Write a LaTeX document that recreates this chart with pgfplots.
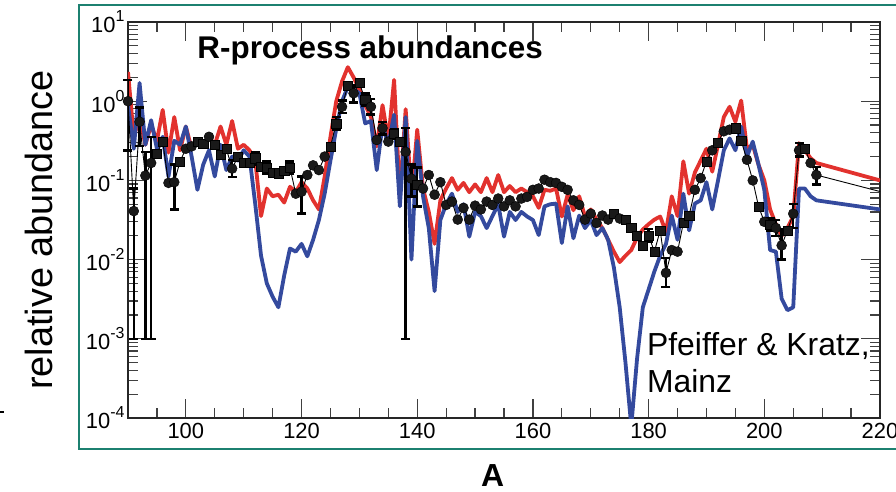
\documentclass[border=0pt]{standalone}
\usepackage{fontspec}
\setmainfont{Liberation Sans}
\usepackage{pgfplots}
\pgfplotsset{compat=1.18}
\usepackage{pgfplotstable}

\definecolor{rcurve}{RGB}{226,50,46}
\definecolor{bcurve}{RGB}{52,74,158}
\definecolor{tealframe}{RGB}{28,128,112}

\newcommand{\decade}[1]{10\raisebox{11bp}{\fontsize{16}{16}\selectfont #1}}

% calculated abundances, model 1 (red)
\pgfplotstableread{
A v
90 2.34
91 0.355
92 0.631
93 0.282
94 0.501
95 0.316
96 0.776
97 0.224
98 0.631
99 0.240
100 0.479
101 0.251
102 0.331
103 0.282
104 0.355
105 0.282
106 0.479
107 0.282
108 0.562
109 0.251
110 0.282
111 0.240
112 0.178
113 0.0355
114 0.079
115 0.063
116 0.066
117 0.0525
118 0.083
119 0.071
120 0.095
121 0.079
122 0.056
123 0.043
124 0.112
125 0.355
126 1.00
127 1.78
128 2.69
129 2.00
130 1.41
131 0.891
132 0.631
133 0.269
134 0.891
135 0.324
136 1.86
137 0.063
138 0.794
139 0.063
140 0.437
141 0.079
142 0.040
143 0.0158
144 0.056
145 0.079
146 0.107
147 0.076
148 0.093
149 0.071
150 0.089
151 0.071
152 0.107
153 0.071
154 0.117
155 0.071
156 0.085
157 0.071
158 0.079
159 0.071
160 0.063
161 0.045
162 0.076
163 0.074
164 0.079
165 0.035
166 0.066
167 0.042
168 0.063
169 0.035
170 0.043
171 0.032
172 0.025
173 0.0178
174 0.0126
175 0.0093
176 0.0112
177 0.0132
178 0.019
179 0.024
180 0.028
181 0.032
182 0.035
183 0.0224
184 0.063
185 0.0355
186 0.174
187 0.068
188 0.126
189 0.178
190 0.251
191 0.129
192 0.282
193 0.631
194 0.851
195 0.550
196 1.02
197 0.251
198 0.282
199 0.158
200 0.100
201 0.043
202 0.028
203 0.020
204 0.025
205 0.035
206 0.295
207 0.240
208 0.191
209 0.166
220 0.100
}\redtab

% calculated abundances, model 2 (blue)
\pgfplotstableread{
A v
90 0.891
91 0.251
92 1.70
93 0.282
94 0.575
95 0.251
96 0.355
97 0.112
98 0.316
99 0.282
100 0.479
101 0.200
102 0.076
103 0.158
104 0.240
105 0.112
106 0.282
107 0.135
108 0.200
109 0.178
110 0.240
111 0.200
112 0.050
113 0.0112
114 0.0050
115 0.0034
116 0.0025
117 0.0063
118 0.0138
119 0.0126
120 0.0158
121 0.0110
122 0.0178
123 0.0316
124 0.068
125 0.178
126 0.447
127 1.00
128 1.51
129 1.41
130 1.26
131 0.525
132 0.562
133 0.135
134 0.501
135 0.282
136 0.676
137 0.047
138 0.631
139 0.010
140 0.316
141 0.063
142 0.025
143 0.0040
144 0.0316
145 0.050
146 0.068
147 0.040
148 0.050
149 0.0195
150 0.040
151 0.0355
152 0.025
153 0.0355
154 0.050
155 0.0195
156 0.040
157 0.0316
158 0.040
159 0.035
160 0.0316
161 0.0204
162 0.047
163 0.050
164 0.051
165 0.0162
166 0.047
167 0.0186
168 0.036
169 0.025
170 0.0316
171 0.0204
172 0.025
173 0.0178
174 0.0079
175 0.0025
176 0.0005
177 7.9e-5
178 0.00056
179 0.0025
180 0.0042
181 0.0071
182 0.0112
183 0.0158
184 0.036
185 0.0178
186 0.068
187 0.0234
188 0.051
189 0.056
190 0.095
191 0.043
192 0.100
193 0.240
194 0.339
195 0.240
196 0.479
197 0.200
198 0.309
199 0.158
200 0.076
201 0.0132
202 0.0126
203 0.0032
204 0.0023
205 0.0025
206 0.079
207 0.079
208 0.063
209 0.056
220 0.043
}\bluetab

% observed solar r-process abundances (c = circle, s = square)
\pgfplotstableread{
A v m
90 1.0 c
91 0.041 c
92 0.55 c
93 0.115 c
94 0.166 c
95 0.219 s
96 0.309 s
97 0.093 c
98 0.095 c
99 0.174 s
100 0.251 c
101 0.269 c
102 0.309 s
103 0.288 s
104 0.355 c
105 0.282 s
106 0.209 s
107 0.251 s
108 0.141 c
109 0.200 s
110 0.166 s
111 0.166 s
112 0.191 s
113 0.148 s
114 0.145 s
115 0.126 s
116 0.123 s
117 0.132 s
118 0.145 s
119 0.068 c
120 0.072 c
121 0.117 c
122 0.155 c
123 0.135 c
124 0.200 c
125 0.269 s
126 0.525 s
127 0.851 c
128 1.585 s
129 1.259 c
130 1.70 s
131 1.047 s
132 0.851 c
133 0.324 c
134 0.457 c
135 0.309 c
136 0.389 s
137 0.309 s
138 0.229 c
139 0.105 c
140 0.089 s
141 0.079 c
142 0.117 c
143 0.066 c
144 0.095 c
145 0.049 c
146 0.054 c
147 0.032 c
148 0.045 c
149 0.032 c
150 0.048 c
151 0.043 c
152 0.054 c
153 0.049 c
154 0.059 c
155 0.047 c
156 0.056 c
157 0.047 c
158 0.059 c
159 0.062 c
160 0.076 c
161 0.079 c
162 0.102 c
163 0.095 c
164 0.093 c
165 0.083 c
166 0.076 c
167 0.056 c
168 0.049 c
169 0.032 c
170 0.038 c
171 0.029 c
172 0.036 c
173 0.032 c
174 0.038 s
175 0.033 c
176 0.032 s
177 0.025 s
178 0.020 s
179 0.015 s
180 0.020 s
181 0.0126 s
182 0.0234 s
183 0.0068 c
184 0.0132 c
185 0.0126 c
186 0.029 s
187 0.036 s
188 0.076 c
189 0.107 c
190 0.174 s
191 0.240 c
192 0.302 s
193 0.417 c
194 0.437 c
195 0.457 s
196 0.316 s
197 0.182 c
198 0.100 c
199 0.047 s
200 0.030 c
201 0.0275 s
202 0.0251 c
203 0.0151 c
204 0.0234 s
205 0.038 c
206 0.240 c
207 0.251 s
208 0.166 c
209 0.117 c
}\obstab

% uncertainties of the observed values
\pgfplotstableread{
A v ep em
90 1.0 0.86 0.76
91 0.041 0.038 0.040
92 0.55 0.28 0.28
93 0.115 0.114 0.114
94 0.166 0.189 0.165
98 0.095 0.063 0.052
108 0.141 0.041 0.031
112 0.191 0.038 0.033
114 0.145 0.029 0.025
118 0.145 0.029 0.025
120 0.072 0.040 0.034
126 0.525 0.106 0.088
127 0.851 0.17 0.143
129 1.259 0.33 0.30
131 1.047 0.21 0.18
132 0.851 0.22 0.175
134 0.457 0.093 0.077
136 0.389 0.058 0.050
138 0.229 0.228 0.228
139 0.105 0.053 0.042
140 0.089 0.056 0.042
180 0.020 0.0045 0.0034
183 0.0068 0.0037 0.0023
201 0.0275 0.0055 0.0046
202 0.0251 0.0065 0.0051
203 0.0151 0.0094 0.0051
205 0.038 0.012 0.013
206 0.240 0.055 0.040
209 0.117 0.031 0.028
}\errtab

\begin{document}
\begin{tikzpicture}
\begin{axis}[
  at={(0,0)}, anchor=south west,
  scale only axis, width=752bp, height=396bp,
  xmin=90, xmax=220,
  ymode=log, ymin=1e-4, ymax=10,
  xtick={100,120,...,220},
  minor xtick={95,100,...,215},
  ytick={1e-4,1e-3,1e-2,1e-1,1,10},
  yticklabels={\decade{-4},\decade{-3},\decade{-2},\decade{-1},\decade{0},\decade{1}},
  /pgf/number format/assume math mode=true,
  /pgf/number format/1000 sep={},
  xticklabel style={font=\fontsize{22}{24}\selectfont, yshift=-2bp},
  yticklabel style={font=\fontsize{22}{24}\selectfont},
  major tick length=19bp, minor tick length=10bp,
  every tick/.style={black!75, line width=1.2bp},
  axis line style={black!85, line width=1.4bp},
  xlabel={\textbf{A}},
  xlabel style={at={(axis description cs:0.485,-0.145)}, anchor=center,
    font=\fontsize{32}{36}\selectfont},
  ylabel={relative abundance},
  ylabel style={at={(axis description cs:-0.119,0.475)}, anchor=center,
    font=\fontsize{38}{44}\selectfont},
  clip=true,
]
\addplot[rcurve, line width=3.8bp, line join=round] table[x=A, y=v] {\redtab};
\addplot[bcurve, line width=3.8bp, line join=round] table[x=A, y=v] {\bluetab};
\addplot[black, line width=0.9bp] table[x=A, y=v] {\obstab};
\addplot[black, line width=0.9bp] coordinates {(209,0.117) (220,0.0724)};
% vertical error bars
\addplot[black, only marks, mark=*, mark size=0.01bp,
  error bars/.cd, y dir=both, y explicit,
  error mark=none,
  error bar style={black, line width=2.5bp}]
  table[x=A, y=v, y error plus=ep, y error minus=em] {\errtab};
% horizontal caps at both ends of each error bar
\addplot[black, only marks, mark=-, mark size=4.5bp, mark options={line width=2.5bp}]
  table[x=A, y expr=\thisrow{v}+\thisrow{ep}] {\errtab};
\addplot[black, only marks, mark=-, mark size=4.5bp, mark options={line width=2.5bp}]
  table[x=A, y expr=\thisrow{v}-\thisrow{em}] {\errtab};
\addplot[scatter, only marks, scatter src=explicit symbolic,
  scatter/classes={
    c={mark=*, mark size=5bp, black, fill=black!90},
    s={mark=square*, mark size=4.6bp, black, fill=black!90}}]
  table[x=A, y=v, meta=m] {\obstab};
\node[font=\fontsize{31.5}{36}\selectfont\bfseries] at (rel axis cs:0.322,0.929) {R-process abundances};
\node[anchor=base west, font=\fontsize{32}{38}\selectfont, inner sep=0pt] at (rel axis cs:0.690,0.159) {Pfeiffer \& Kratz,};
\node[anchor=base west, font=\fontsize{32}{38}\selectfont, inner sep=0pt] at (rel axis cs:0.690,0.064) {Mainz};
\end{axis}
\draw[tealframe, line width=2bp] (-49bp,-31bp) rectangle (800bp,413bp);
\draw[black, line width=2bp] (-128bp,6.3bp) -- (-124bp,6.3bp);
\pgfresetboundingbox
\path[use as bounding box] (-128bp,-74bp) rectangle (768bp,418bp);
\end{tikzpicture}
\end{document}
